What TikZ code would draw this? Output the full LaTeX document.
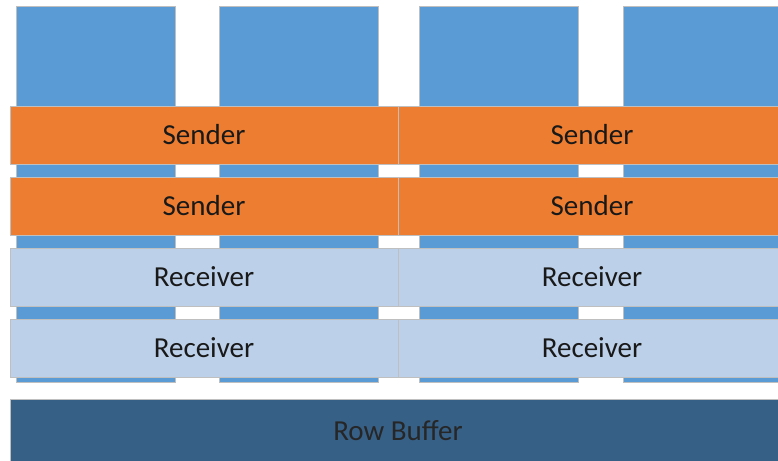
\documentclass[tikz,border=0pt]{standalone}
\usepackage{fontspec}
\setmainfont{Carlito}
\definecolor{bankblue}{HTML}{5B9BD5}
\definecolor{sendorange}{HTML}{ED7D31}
\definecolor{recvblue}{HTML}{BCD0E9}
\definecolor{bufblue}{HTML}{376087}
\definecolor{edgegray}{HTML}{BFBFBF}
\begin{document}
\begin{tikzpicture}[x=1pt,y=-1pt,
  bank/.style={fill=bankblue,draw=edgegray,line width=0.8pt},
  band/.style={draw=edgegray,line width=0.8pt,font=\fontsize{29}{33}\selectfont,text=black!90},
  sendband/.style={band,fill=sendorange},
  recvband/.style={band,fill=recvblue},
  bufband/.style={band,fill=bufblue,text=black!85}]
\useasboundingbox (0,0) rectangle (778,460);
\clip (0,0) rectangle (778,460);
\fill[white] (0,0) rectangle (778,460);
% memory banks (columns)
\foreach \x/\n in {16/b1,219/b2,419/b3,623/b4}
  \draw[bank] (\x,6) rectangle ++(159,376) coordinate (\n);
% two halves of each layer
\foreach \y/\lab/\sty/\n in {106/Sender/sendband/s1,177/Sender/sendband/s2,248/Receiver/recvband/r1,319/Receiver/recvband/r2}{
  \draw[\sty] (10,\y) rectangle (398,\y+58) node[midway] (\n l) {\lab};
  \draw[\sty] (398,\y) rectangle (786,\y+58) node[midway] (\n r) {\lab};
}
% row buffer
\draw[bufband] (10,399) rectangle (786,466) node[midway,yshift=2pt] (rb) {Row Buffer};
\end{tikzpicture}
\end{document}
